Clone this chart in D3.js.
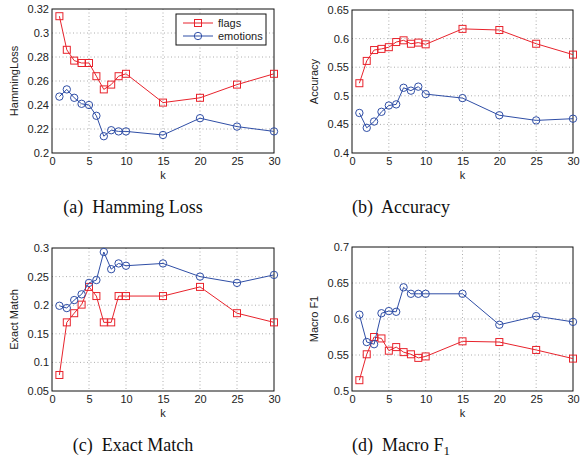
<!DOCTYPE html>
<html>
<head>
<meta charset="utf-8">
<script src="https://cdn.jsdelivr.net/npm/d3@7"></script>
<style>
  body { margin: 0; background: #fff; }
  svg { display: block; }
  .tick text { font-family: "Liberation Sans", Arial, sans-serif; font-size: 11px; fill: #222; }
  .lab { font-family: "Liberation Sans", Arial, sans-serif; font-size: 11px; fill: #222; }
  .cap { font-family: "Liberation Serif", "Times New Roman", serif; font-size: 18px; fill: #111; }
</style>
</head>
<body>
<svg id="chart" width="587" height="461"></svg>
<script>
// k values shared by every panel
const kValues = [1, 2, 3, 4, 5, 6, 7, 8, 9, 10, 15, 20, 25, 30];
const xTicks = [0, 5, 10, 15, 20, 25, 30];

const hammingFlags    = [0.314, 0.286, 0.277, 0.275, 0.275, 0.264, 0.253, 0.257, 0.264, 0.266, 0.242, 0.246, 0.257, 0.266];
const hammingEmotions = [0.247, 0.253, 0.246, 0.241, 0.240, 0.231, 0.214, 0.219, 0.218, 0.218, 0.215, 0.229, 0.222, 0.218];

const accuracyFlags    = [0.522, 0.561, 0.580, 0.582, 0.585, 0.594, 0.597, 0.591, 0.593, 0.590, 0.617, 0.615, 0.591, 0.572];
const accuracyEmotions = [0.470, 0.444, 0.455, 0.472, 0.483, 0.485, 0.514, 0.509, 0.516, 0.503, 0.496, 0.466, 0.457, 0.460];

const exactFlags    = [0.078, 0.170, 0.186, 0.201, 0.232, 0.216, 0.170, 0.170, 0.216, 0.216, 0.216, 0.232, 0.186, 0.170];
const exactEmotions = [0.199, 0.195, 0.209, 0.219, 0.239, 0.244, 0.293, 0.263, 0.273, 0.269, 0.273, 0.250, 0.239, 0.253];

const macroFlags    = [0.515, 0.551, 0.575, 0.573, 0.556, 0.561, 0.554, 0.551, 0.546, 0.548, 0.569, 0.568, 0.557, 0.545];
const macroEmotions = [0.606, 0.568, 0.565, 0.608, 0.611, 0.610, 0.644, 0.635, 0.635, 0.635, 0.635, 0.592, 0.604, 0.596];

const hammingTicks  = [0.2, 0.22, 0.24, 0.26, 0.28, 0.3, 0.32];
const accuracyTicks = [0.4, 0.45, 0.5, 0.55, 0.6, 0.65];
const exactTicks    = [0.05, 0.1, 0.15, 0.2, 0.25, 0.3];
const macroTicks    = [0.5, 0.55, 0.6, 0.65, 0.7];

const seriesNames = ["flags", "emotions"];

const RED = "#e8232c", BLUE = "#2f4ea6";

let panels = [
    {x0: 52,  x1: 274, y0: 9,   y1: 153, capX: 133, ticks: hammingTicks,  flags: hammingFlags,  emo: hammingEmotions,  ylabel: "HammingLoss", cap: "(a)  Hamming Loss", legend: true},
    {x0: 352, x1: 573, y0: 10,  y1: 153, capX: 401, ticks: accuracyTicks, flags: accuracyFlags, emo: accuracyEmotions, ylabel: "Accuracy",    cap: "(b)  Accuracy"},
    {x0: 52,  x1: 274, y0: 248, y1: 391, capX: 133, ticks: exactTicks,    flags: exactFlags,    emo: exactEmotions,    ylabel: "Exact Match", cap: "(c)  Exact Match"},
    {x0: 352, x1: 573, y0: 247, y1: 391, capX: 401, ticks: macroTicks,    flags: macroFlags,    emo: macroEmotions,    ylabel: "Macro F",     cap: "(d)  Macro F", sub: true}
];

const svg = d3.select("#chart");

function drawPanel(p, i) {
    let g = svg.append("g");
    let xScale = d3.scaleLinear().domain([0, 30]).range([p.x0, p.x1]);
    let yScale = d3.scaleLinear()
        .domain([p.ticks[0], p.ticks[p.ticks.length - 1]])
        .range([p.y1, p.y0]);

    // dotted grid
    g.selectAll(".gx").data(xTicks.slice(1, -1)).enter().append("line")
        .attr("x1", d => xScale(d)).attr("x2", d => xScale(d))
        .attr("y1", p.y0).attr("y2", p.y1)
        .attr("stroke", "#999").attr("stroke-width", 0.8).attr("stroke-dasharray", "1,2.5");
    g.selectAll(".gy").data(p.ticks.slice(1, -1)).enter().append("line")
        .attr("y1", d => yScale(d)).attr("y2", d => yScale(d))
        .attr("x1", p.x0).attr("x2", p.x1)
        .attr("stroke", "#999").attr("stroke-width", 0.8).attr("stroke-dasharray", "1,2.5");

    // axes (no tick marks, matlab style labels)
    let xAxis = d3.axisBottom(xScale).tickValues(xTicks).tickSize(0).tickPadding(4).tickFormat(d3.format("d"));
    g.append("g").attr("transform", "translate(0," + p.y1 + ")").call(xAxis)
        .call(a => a.select(".domain").remove());
    let yAxis = d3.axisLeft(yScale).tickValues(p.ticks).tickSize(0).tickPadding(3).tickFormat(d => String(+d.toFixed(2)));
    g.append("g").attr("transform", "translate(" + p.x0 + ",0)").call(yAxis)
        .call(a => a.select(".domain").remove());

    // box
    g.append("rect").attr("x", p.x0).attr("y", p.y0)
        .attr("width", p.x1 - p.x0).attr("height", p.y1 - p.y0)
        .attr("fill", "none").attr("stroke", "#111").attr("stroke-width", 1);

    // labels
    g.append("text").attr("class", "lab")
        .attr("x", (p.x0 + p.x1) / 2).attr("y", p.y1 + 26)
        .attr("text-anchor", "middle").text("k");
    let yl = g.append("text").attr("class", "lab")
        .attr("transform", "translate(" + (p.x0 - 34) + "," + ((p.y0 + p.y1) / 2) + ") rotate(-90)")
        .attr("text-anchor", "middle").text(p.ylabel);
    if (p.sub) yl.append("tspan").text("1");

    let line = d3.line().x((d, j) => xScale(kValues[j])).y(d => yScale(d));

    // flags
    g.append("path").attr("d", line(p.flags))
        .attr("fill", "none").attr("stroke", RED).attr("stroke-width", 1);
    g.selectAll(".sq").data(p.flags).enter().append("rect")
        .attr("x", (d, j) => xScale(kValues[j]) - 3.5)
        .attr("y", d => yScale(d) - 3.5)
        .attr("width", 7).attr("height", 7)
        .attr("fill", "none").attr("stroke", RED).attr("stroke-width", 1);

    // emotions
    g.append("path").attr("d", line(p.emo))
        .attr("fill", "none").attr("stroke", BLUE).attr("stroke-width", 1);
    g.selectAll(".ci").data(p.emo).enter().append("circle")
        .attr("cx", (d, j) => xScale(kValues[j]))
        .attr("cy", d => yScale(d))
        .attr("r", 3.7)
        .attr("fill", "none").attr("stroke", BLUE).attr("stroke-width", 1);

    // caption
    let cap = svg.append("text").attr("class", "cap")
        .attr("x", p.capX).attr("y", p.y1 + 60)
        .attr("text-anchor", "middle").attr("xml:space", "preserve").text(p.cap);
    if (p.sub) cap.append("tspan").attr("font-size", "13px").attr("dy", 4).text("1");

    if (p.legend) {
        let lg = g.append("g").attr("transform", "translate(176,14)");
        lg.append("rect").attr("width", 90).attr("height", 31)
            .attr("fill", "#fff").attr("stroke", "#111").attr("stroke-width", 1);
        seriesNames.forEach(function(name, j) {
            let y = 9 + j * 13;
            let c = j === 0 ? RED : BLUE;
            lg.append("line").attr("x1", 7).attr("x2", 37).attr("y1", y).attr("y2", y)
                .attr("stroke", c).attr("stroke-width", 1);
            if (j === 0) {
                lg.append("rect").attr("x", 22 - 3.5).attr("y", y - 3.5).attr("width", 7).attr("height", 7)
                    .attr("fill", "none").attr("stroke", c);
            } else {
                lg.append("circle").attr("cx", 22).attr("cy", y).attr("r", 3.7)
                    .attr("fill", "none").attr("stroke", c);
            }
            lg.append("text").attr("class", "lab").attr("x", 42).attr("y", y + 4).text(name);
        });
    }
}

panels.forEach(drawPanel);
</script>
</body>
</html>
